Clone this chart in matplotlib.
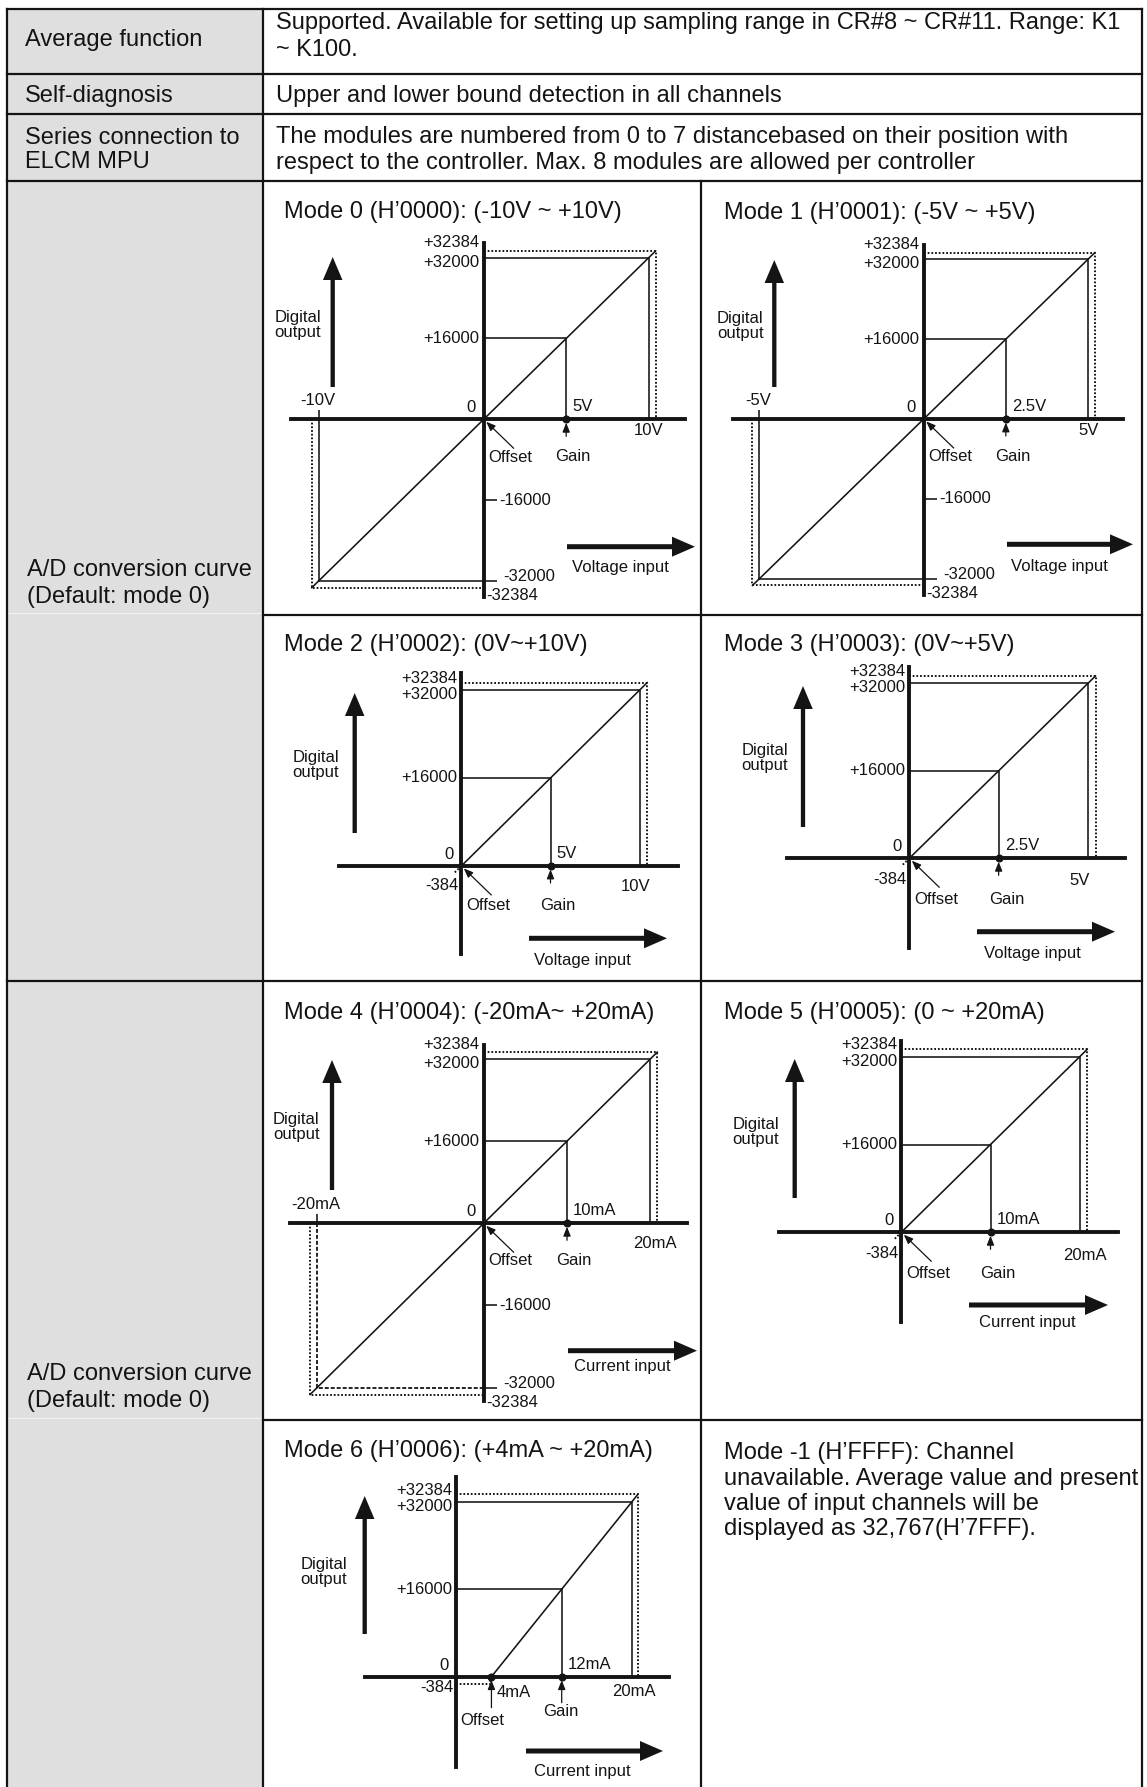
import numpy as np
import matplotlib
matplotlib.use("Agg")
import matplotlib.pyplot as plt
from matplotlib.lines import Line2D
from matplotlib.patches import Rectangle, FancyArrow
from matplotlib.transforms import Affine2D

W, H = 1147, 1787
INK = "#141414"
GRAY = "#dfdfdf"
BODY = 17
SMALL = 12

# ---- table text ----
ROW_LABELS = [["Average function"], ["Self-diagnosis"], ["Series connection to", "ELCM MPU"]]
ROW_TEXT = [
    ["Supported. Available for setting up sampling range in CR#8 ~ CR#11. Range: K1", "~ K100."],
    ["Upper and lower bound detection in all channels"],
    ["The modules are numbered from 0 to 7 distancebased on their position with",
     "respect to the controller. Max. 8 modules are allowed per controller"],
]
CURVE_LABEL = ["A/D conversion curve", "(Default: mode 0)"]
NOTE_LINES = ["Mode -1 (H’FFFF): Channel",
              "unavailable. Average value and present",
              "value of input channels will be",
              "displayed as 32,767(H’7FFF)."]

# ---- conversion curves ----
MODE_TITLES = ["Mode 0 (H’0000): (-10V ~ +10V)", "Mode 1 (H’0001): (-5V ~ +5V)",
               "Mode 2 (H’0002): (0V~+10V)", "Mode 3 (H’0003): (0V~+5V)",
               "Mode 4 (H’0004): (-20mA~ +20mA)", "Mode 5 (H’0005): (0 ~ +20mA)",
               "Mode 6 (H’0006): (+4mA ~ +20mA)"]
IN_MIN = [-10, -5, 0, 0, -20, 0, 4]
IN_MAX = [10, 5, 10, 5, 20, 20, 20]
IN_GAIN = [5, 2.5, 5, 2.5, 10, 10, 12]
IN_AT_HI = [10.12, 5.06, 10.12, 5.06, 20.24, 20.24, 20.19]
IN_AT_LO = [-10.12, -5.06, -0.12, -0.06, -20.24, -0.24, 3.81]
OUT_MIN = [-32000, -32000, 0, 0, -32000, 0, 0]
OUT_LO = [-32384, -32384, -384, -384, -32384, -384, -384]
OUT_FULL = 32000
OUT_HI = 32384
OUT_GAIN = 16000
MIN_LABELS = ["-10V", "-5V", "", "", "-20mA", "", "4mA"]
MAX_LABELS = ["10V", "5V", "10V", "5V", "20mA", "20mA", "20mA"]
GAIN_LABELS = ["5V", "2.5V", "5V", "2.5V", "10mA", "10mA", "12mA"]
INPUT_NAMES = ["Voltage input"] * 4 + ["Current input"] * 3

# pixel layout of each curve cell (x right, y down)
LAYOUT = [
    dict(cell=(263, 181, 701, 615), title=(284, 212), origin=(483.7, 419.3), xmax_px=648.7, ymax_px=257.7,
         hax=(291, 685), vax=(243, 597), up=(332.7, 257, 387), right=(567, 695, 546.7), in_lab=(620, 567.7),
         dig=(274.7, 325), max_off=(0, 11.5), hi_dy=-8, off_dy=38, gain_off=(6.5, 37.5)),
    dict(cell=(701, 181, 1142, 615), title=(723.7, 213), origin=(923.7, 419), xmax_px=1088, ymax_px=259.3,
         hax=(733, 1123), vax=(245, 595), up=(774.3, 260, 387), right=(1007, 1133, 544.3), in_lab=(1059.3, 566.7),
         dig=(717, 326), max_off=(0.7, 11.7), hi_dy=-7.7, off_dy=37.7, gain_off=(6.7, 37.7)),
    dict(cell=(263, 615, 701, 981), title=(284, 645), origin=(461.3, 866), xmax_px=639.7, ymax_px=690,
         hax=(339, 678), vax=(673, 954), up=(354.7, 693, 833), right=(529, 667, 938.3), in_lab=(582.7, 960.7),
         dig=(292.7, 765), max_off=(-3.7, 20.7), hi_dy=-4.4, off_dy=40, gain_off=(7.3, 40), n384_dy=20),
    dict(cell=(701, 615, 1142, 981), title=(723.7, 645), origin=(909.3, 858.3), xmax_px=1088, ymax_px=683.3,
         hax=(787, 1125), vax=(667, 948), up=(803, 686, 827), right=(977, 1115, 931.7), in_lab=(1032, 953.3),
         dig=(741.3, 758), max_off=(-8, 22.4), hi_dy=-4.3, off_dy=41, gain_off=(8, 41), n384_dy=21),
    dict(cell=(263, 981, 701, 1420), title=(284, 1013), origin=(483.7, 1223.3), xmax_px=650.3, ymax_px=1059,
         hax=(290, 687), vax=(1045, 1401), up=(332, 1060, 1190), right=(568, 697, 1350.7), in_lab=(622, 1366),
         dig=(273, 1127), max_off=(5, 20), hi_dy=-7.4, off_dy=37.4, gain_off=(6.7, 37.4), neg_dashed=True),
    dict(cell=(701, 981, 1142, 1420), title=(723.7, 1013), origin=(901.3, 1232.3), xmax_px=1079.7, ymax_px=1056.7,
         hax=(779, 1118), vax=(1041, 1322), up=(794.7, 1059, 1198), right=(969, 1108, 1305), in_lab=(1027, 1322.7),
         dig=(732.7, 1132), max_off=(5, 22.7), hi_dy=-5, off_dy=41, gain_off=(7.3, 41), n384_dy=21),
    dict(cell=(263, 1420, 701, 1787), title=(284, 1451), origin=(456.3, 1676.7), xmax_px=632, ymax_px=1501.7,
         hax=(365, 669), vax=(1477, 1767), up=(364.7, 1496, 1634), right=(526, 663, 1751), in_lab=(582, 1771.7),
         dig=(300.3, 1571.7), max_off=(1.7, 14.3), hi_dy=-4, off_dy=44, gain_off=(-1, 35), n384_dy=11,
         gain_arrow=26),
]


def stretch(lo, hi, k=3.5):
    # schematic scale: the small over-range margins are drawn enlarged
    def fwd(v):
        v = np.asarray(v, dtype=float)
        return np.where(v > hi, hi + (v - hi) * k, np.where(v < lo, lo + (v - lo) * k, v))

    def inv(u):
        u = np.asarray(u, dtype=float)
        return np.where(u > hi, hi + (u - hi) / k, np.where(u < lo, lo + (u - lo) / k, u))
    return fwd, inv


def ftext(fig, px, x, y, s, size, ha="left", **kw):
    fig.text(x, y, s, transform=px, fontsize=size, ha=ha, va="center", color=INK, **kw)


def lab(ax, s, xy, dx, dy, ha):
    ax.annotate(s, xy, xytext=(dx, -dy), textcoords="offset pixels", ha=ha, va="center",
                fontsize=SMALL, color=INK, annotation_clip=False)


def small_arrow(ax, xy, dx, dy):
    ax.annotate("", xy, xytext=(dx, -dy), textcoords="offset pixels", annotation_clip=False,
                arrowprops=dict(arrowstyle="-|>,head_length=0.55,head_width=0.22", lw=0.9, color=INK,
                                shrinkA=0, shrinkB=2.5, mutation_scale=10))


def draw_chart(fig, px, i, lay):
    cx0, cy0, cx1, cy1 = lay["cell"]
    ax = fig.add_axes([cx0 / W, 1 - cy1 / H, (cx1 - cx0) / W, (cy1 - cy0) / H])
    ax.set_axis_off()
    x0, x1, y0 = IN_MIN[i], IN_MAX[i], OUT_MIN[i]
    bipolar = y0 < 0
    fx, ix = stretch(min(x0, 0), x1)
    fy, iy = stretch(y0, OUT_FULL)
    ax.set_xscale("function", functions=(fx, ix))
    ax.set_yscale("function", functions=(fy, iy))

    thin = dict(color=INK, lw=1.15, clip_on=False)
    dots = dict(color=INK, lw=1.4, ls=(0, (0.9, 1.0)), clip_on=False)
    dash = dict(color=INK, lw=1.3, ls=(0, (2.2, 1.1)), clip_on=False)

    # axes
    hx0, hx1 = lay["hax"]
    vy0, vy1 = lay["vax"]
    ax.axhline(0, xmin=(hx0 - cx0) / (cx1 - cx0), xmax=(hx1 - cx0) / (cx1 - cx0), color=INK, lw=2.8)
    ax.axvline(0, ymin=(cy1 - vy1) / (cy1 - cy0), ymax=(cy1 - vy0) / (cy1 - cy0), color=INK, lw=2.8)

    # transfer curve and guides
    ax.plot([x0, x1, IN_AT_HI[i]], [y0, OUT_FULL, OUT_HI], **thin)
    ax.plot([0, x1, x1], [OUT_FULL, OUT_FULL, 0], **thin)
    ax.plot([0, IN_GAIN[i], IN_GAIN[i]], [OUT_GAIN, OUT_GAIN, 0], **thin)
    ax.plot([0, IN_AT_HI[i], IN_AT_HI[i]], [OUT_HI, OUT_HI, 0], **dots)
    if bipolar:
        neg = dash if lay.get("neg_dashed") else thin
        ax.plot([x0, x0, 0], [0, y0, y0], **neg)
        ax.plot([IN_AT_LO[i], IN_AT_LO[i], 0], [0, OUT_LO[i], OUT_LO[i]], **dots)
        ax.plot([x0, IN_AT_LO[i]], [y0, OUT_LO[i]], **thin)
        ax.plot([x0], [0], marker=2, ms=6.5, mew=1.15, color=INK, clip_on=False)
        ax.plot([0, 0], [-OUT_GAIN, y0], ls="none", marker=1, ms=9, mew=1.15, color=INK, clip_on=False)
    else:
        ax.plot([x0, IN_AT_LO[i]], [0, OUT_LO[i]], **dots)
        if x0 > 0:
            ax.plot([0, IN_AT_LO[i]], [OUT_LO[i], OUT_LO[i]], **dots)

    ax.plot([IN_GAIN[i]], [0], "o", ms=4.8, color=INK, clip_on=False)
    if x0 > 0:
        ax.plot([x0], [0], "o", ms=4.8, color=INK, clip_on=False)

    # value labels
    lab(ax, f"{OUT_HI:+d}", (0, OUT_HI), -4, lay["hi_dy"], "right")
    lab(ax, f"{OUT_FULL:+d}", (0, OUT_FULL), -4, 4.5, "right")
    lab(ax, f"{OUT_GAIN:+d}", (0, OUT_GAIN), -4, 0, "right")
    lab(ax, "0", (0, 0), -8, -11.5, "right")
    lab(ax, GAIN_LABELS[i], (IN_GAIN[i], 0), 6, -12.5, "left")
    lab(ax, MAX_LABELS[i], (x1, 0), lay["max_off"][0], lay["max_off"][1], "center")
    if bipolar:
        lab(ax, MIN_LABELS[i], (x0, 0), -1, -18.5, "center")
        lab(ax, f"{-OUT_GAIN:d}", (0, -OUT_GAIN), 16, 0, "left")
        lab(ax, f"{y0:d}", (0, y0), 20, -4.5, "left")
        lab(ax, f"{OUT_LO[i]:d}", (0, OUT_LO[i]), 2.5, 8, "left")
    else:
        lab(ax, f"{OUT_LO[i]:d}", (0, 0), -3, lay["n384_dy"], "right")

    # offset / gain markers
    if x0 > 0:
        lab(ax, MIN_LABELS[i], (x0, 0), 5, 15.6, "left")
        small_arrow(ax, (x0, 0), 0, 31)
        lab(ax, "Offset", (0, 0), 4, lay["off_dy"], "left")
    else:
        small_arrow(ax, (0, 0), 30, 29)
        lab(ax, "Offset", (0, 0), 4.5, lay["off_dy"], "left")
    small_arrow(ax, (IN_GAIN[i], 0), 0, lay.get("gain_arrow", 17))
    lab(ax, "Gain", (IN_GAIN[i], 0), lay["gain_off"][0], lay["gain_off"][1], "center")

    ox, oy = lay["origin"]
    sx = (lay["xmax_px"] - ox) / x1
    sy = (oy - lay["ymax_px"]) / OUT_FULL
    ax.set_xlim(float(ix((cx0 - ox) / sx)), float(ix((cx1 - ox) / sx)))
    ax.set_ylim(float(iy((oy - cy1) / sy)), float(iy((oy - cy0) / sy)))

    # decorations in the cell
    ftext(fig, px, *lay["title"], MODE_TITLES[i], BODY)
    ftext(fig, px, *lay["dig"], "Digital\noutput", SMALL, linespacing=1.0)
    ftext(fig, px, *lay["in_lab"], INPUT_NAMES[i], SMALL, ha="center")
    ux, utip, ubot = lay["up"]
    fig.add_artist(FancyArrow(ux, ubot, 0, utip - ubot, width=4.3, head_width=19.5, head_length=23,
                              length_includes_head=True, color=INK, lw=0, transform=px))
    rx0, rx1, ry = lay["right"]
    fig.add_artist(FancyArrow(rx0, ry, rx1 - rx0, 0, width=5, head_width=20, head_length=23,
                              length_includes_head=True, color=INK, lw=0, transform=px))


def main():
    plt.rcParams["font.family"] = ["Liberation Sans", "DejaVu Sans"]
    fig = plt.figure(figsize=(W / 100, H / 100), dpi=100)
    px = Affine2D().scale(1 / W, -1 / H).translate(0, 1) + fig.transFigure

    fig.add_artist(Rectangle((7, 9), 256, H - 9, transform=px, facecolor=GRAY, edgecolor="none"))

    def hline(y, xa, xb, color=INK, lw=1.6):
        fig.add_artist(Line2D([xa, xb], [y, y], transform=px, color=color, lw=lw))

    def vline(x, ya, yb):
        fig.add_artist(Line2D([x, x], [ya, yb], transform=px, color=INK, lw=1.6))

    for y in (9, 74, 114, 181, 981):
        hline(y, 7, 1142)
    for y in (615, 1420):
        hline(y, 263, 1142)
        hline(y - 2, 7, 263, color="#f3f3f3", lw=0.8)
    vline(7, 9, H)
    vline(263, 9, H)
    vline(701, 181, H)
    vline(1142, 9, H)

    # header rows
    left_y = [[40], [96], [137.5, 162.5]]
    right_y = [[23.5, 50.5], [96], [137.5, 162.5]]
    for labels, texts, ly, ry in zip(ROW_LABELS, ROW_TEXT, left_y, right_y):
        for s, y in zip(labels, ly):
            ftext(fig, px, 25, y, s, BODY)
        for s, y in zip(texts, ry):
            ftext(fig, px, 276, y, s, BODY)
    for base in (569.5, 1374.5):
        for k, s in enumerate(CURVE_LABEL):
            ftext(fig, px, 27, base + 27 * k, s, BODY)

    for i, lay in enumerate(LAYOUT):
        draw_chart(fig, px, i, lay)

    for k, s in enumerate(NOTE_LINES):
        ftext(fig, px, 723.7, 1453 + 25.5 * k, s, BODY)

    fig.savefig("out.png", dpi=100)
    plt.close(fig)


if __name__ == "__main__":
    main()
